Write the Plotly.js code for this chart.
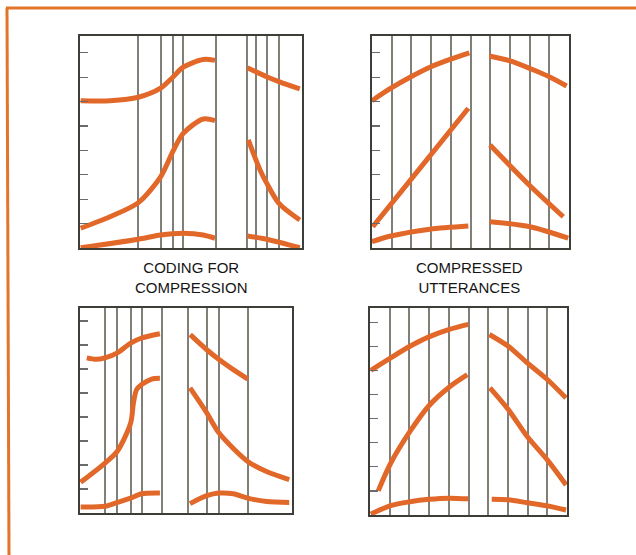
<!DOCTYPE html>
<html>
<head>
<meta charset="utf-8">
<script src="https://cdn.plot.ly/plotly-3.0.1.min.js"></script>
<style>html,body{margin:0;padding:0;background:#fff;}#chart{width:636px;height:555px;}</style>
</head>
<body>
<div id="chart"></div>
<script>
// ---- Data ----
const panelTitles = ["CODING FOR<br>COMPRESSION", "COMPRESSED<br>UTTERANCES"];
const yTickVals = [1, 2, 3, 4, 5, 6, 7, 8];

// vertical rule positions (0-100 across each panel)
const p1Rules = [26.3, 36.3, 41.8, 46.5, 61.1, 75.4, 79.2, 84.1, 89.6];
const p2Rules = [10, 20, 30, 40, 50, 60, 70, 80, 90];
const p3Rules = [11.8, 17.6, 23.9, 29.1, 38.5, 51.1, 59.8, 65.6, 79.1];
const p4Rules = [10, 20, 30, 40, 50, 60, 70, 80, 90];

// Panel 1 (top left)
const p1UpperLeftX = [0.3, 13.5, 26.3, 36.3, 41.8, 46.5, 55.5, 60.8];
const p1UpperLeftY = [6.04, 6.04, 6.18, 6.55, 7.0, 7.41, 7.73, 7.69];
const p1UpperRightX = [75.4, 84.1, 89.6, 99];
const p1UpperRightY = [7.39, 7.02, 6.82, 6.52];
const p1MidLeftX = [0.3, 13.5, 26.3, 36.3, 41.8, 46.5, 55.5, 60.8];
const p1MidLeftY = [0.81, 1.28, 1.86, 2.92, 3.95, 4.70, 5.29, 5.22];
const p1MidRightX = [75.8, 81.1, 84.1, 89.6, 99];
const p1MidRightY = [4.43, 3.20, 2.66, 1.83, 1.15];
const p1LowLeftX = [0.3, 26.3, 36.3, 46.5, 55.5, 60.8];
const p1LowLeftY = [0.01, 0.36, 0.53, 0.60, 0.53, 0.40];
const p1LowRightX = [75.4, 84.1, 99];
const p1LowRightY = [0.49, 0.36, 0.01];

// Panel 2 (top right)
const p2UpperLeftX = [0, 9.6, 19.8, 29.4, 39.6, 49.4];
const p2UpperLeftY = [6.04, 6.55, 7.02, 7.41, 7.73, 8.0];
const p2UpperRightX = [59.6, 69.7, 80.2, 90, 98.8];
const p2UpperRightY = [7.87, 7.68, 7.36, 7.02, 6.64];
const p2MidLeftX = [0.4, 19.6, 48.9];
const p2MidLeftY = [0.87, 2.79, 5.73];
const p2MidRightX = [59.9, 80.2, 97.1];
const p2MidRightY = [4.22, 2.55, 1.28];
const p2LowLeftX = [0, 9.6, 29.4, 48.9];
const p2LowLeftY = [0.26, 0.49, 0.77, 0.90];
const p2LowRightX = [59.9, 80.2, 99.6];
const p2LowRightY = [1.08, 0.87, 0.40];

// Panel 3 (bottom left)
const p3UpperLeftX = [3.2, 7.5, 11.8, 17.6, 23.9, 29.1, 37.7];
const p3UpperLeftY = [6.46, 6.40, 6.46, 6.67, 7.08, 7.29, 7.47];
const p3UpperRightX = [52.0, 59.8, 65.6, 72.3, 79.1];
const p3UpperRightY = [7.43, 6.80, 6.39, 5.97, 5.58];
const p3MidLeftX = [0.3, 11.8, 17.6, 23.9, 25.2, 26.7, 29.1, 33.8, 37.7];
const p3MidLeftY = [1.28, 2.08, 2.57, 3.75, 4.58, 5.14, 5.35, 5.58, 5.61];
const p3MidRightX = [51.9, 59.8, 65.6, 79.1, 88, 98.7];
const p3MidRightY = [5.21, 4.17, 3.33, 2.15, 1.73, 1.39];
const p3LowLeftX = [0.3, 11.8, 17.6, 23.9, 29.1, 37.7];
const p3LowLeftY = [0.25, 0.28, 0.44, 0.62, 0.80, 0.83];
const p3LowRightX = [51.9, 59.8, 65.6, 72.3, 79.1, 88, 98.7];
const p3LowRightY = [0.39, 0.72, 0.83, 0.80, 0.62, 0.48, 0.44];

// Panel 4 (bottom right)
const p4UpperLeftX = [0.4, 10.5, 20.3, 29.9, 40.3, 49.9];
const p4UpperLeftY = [6.01, 6.53, 7.01, 7.40, 7.71, 7.92];
const p4UpperRightX = [60.6, 70.2, 79.8, 90, 99.5];
const p4UpperRightY = [7.5, 7.01, 6.32, 5.63, 4.86];
const p4MidLeftX = [4.2, 10.5, 20.3, 29.9, 40.3, 49.4];
const p4MidLeftY = [1.01, 2.15, 3.47, 4.54, 5.32, 5.83];
const p4MidRightX = [60.9, 70.2, 79.8, 90, 99.5];
const p4MidRightY = [5.28, 4.38, 3.26, 2.29, 1.25];
const p4LowLeftX = [0.4, 10.5, 20.3, 29.9, 40.3, 49.9];
const p4LowLeftY = [0.04, 0.39, 0.55, 0.65, 0.70, 0.67];
const p4LowRightX = [61.8, 70.2, 79.8, 90, 99.5];
const p4LowRightY = [0.65, 0.63, 0.51, 0.38, 0.21];

// ---- Build ----
const curveColor = '#e2682a';
function seg(x, y, n) {
  return {
    x: x, y: y, xaxis: 'x' + (n === 1 ? '' : n), yaxis: 'y' + (n === 1 ? '' : n),
    type: 'scatter', mode: 'lines',
    line: {color: curveColor, width: 5, shape: 'spline', smoothing: 0.8},
    hoverinfo: 'skip', showlegend: false, cliponaxis: false
  };
}
const traces = [
  seg(p1UpperLeftX, p1UpperLeftY, 1), seg(p1UpperRightX, p1UpperRightY, 1),
  seg(p1MidLeftX, p1MidLeftY, 1), seg(p1MidRightX, p1MidRightY, 1),
  seg(p1LowLeftX, p1LowLeftY, 1), seg(p1LowRightX, p1LowRightY, 1),
  seg(p2UpperLeftX, p2UpperLeftY, 2), seg(p2UpperRightX, p2UpperRightY, 2),
  seg(p2MidLeftX, p2MidLeftY, 2), seg(p2MidRightX, p2MidRightY, 2),
  seg(p2LowLeftX, p2LowLeftY, 2), seg(p2LowRightX, p2LowRightY, 2),
  seg(p3UpperLeftX, p3UpperLeftY, 3), seg(p3UpperRightX, p3UpperRightY, 3),
  seg(p3MidLeftX, p3MidLeftY, 3), seg(p3MidRightX, p3MidRightY, 3),
  seg(p3LowLeftX, p3LowLeftY, 3), seg(p3LowRightX, p3LowRightY, 3),
  seg(p4UpperLeftX, p4UpperLeftY, 4), seg(p4UpperRightX, p4UpperRightY, 4),
  seg(p4MidLeftX, p4MidLeftY, 4), seg(p4MidRightX, p4MidRightY, 4),
  seg(p4LowLeftX, p4LowLeftY, 4), seg(p4LowRightX, p4LowRightY, 4)
];

const W = 636, H = 555;
function xdom(a, b) { return [a / W, b / W]; }
function ydom(top, bot) { return [1 - bot / H, 1 - top / H]; }
function xax(dom, rules, anchor) {
  return {domain: dom, anchor: anchor, range: [0, 100], tickvals: rules, showticklabels: false, ticks: '',
    showgrid: true, gridcolor: '#808079', gridwidth: 2, zeroline: false,
    showline: true, mirror: true, linecolor: '#3e3e38', linewidth: 2, fixedrange: true};
}
function yax(dom, top, anchor) {
  return {domain: dom, anchor: anchor, range: [0, top], tickvals: yTickVals, showticklabels: false,
    ticks: 'inside', ticklen: 8, tickcolor: '#6a6a6e', tickwidth: 1.2,
    showgrid: false, zeroline: false, showline: true, mirror: true,
    linecolor: '#3e3e38', linewidth: 2, fixedrange: true};
}

const layout = {
  width: W, height: H, margin: {l: 0, r: 0, t: 0, b: 0},
  paper_bgcolor: '#ffffff', plot_bgcolor: '#ffffff', showlegend: false,
  xaxis: xax(xdom(80, 302), p1Rules, 'y'),    yaxis: yax(ydom(36, 248), 8.69, 'x'),
  xaxis2: xax(xdom(372, 569), p2Rules, 'y2'), yaxis2: yax(ydom(36, 248), 8.69, 'x2'),
  xaxis3: xax(xdom(80, 292), p3Rules, 'y3'),  yaxis3: yax(ydom(308, 513), 8.54, 'x3'),
  xaxis4: xax(xdom(370, 567), p4Rules, 'y4'), yaxis4: yax(ydom(308, 515), 8.6, 'x4'),
  annotations: [
    {text: panelTitles[0], xref: 'paper', yref: 'paper', x: 191 / W, y: 1 - 277 / H,
     xanchor: 'center', yanchor: 'middle', showarrow: false, align: 'center',
     font: {family: 'Liberation Sans, Arial, sans-serif', size: 15, color: '#151515'}},
    {text: panelTitles[1], xref: 'paper', yref: 'paper', x: 470 / W, y: 1 - 277 / H,
     xanchor: 'center', yanchor: 'middle', showarrow: false, align: 'center',
     font: {family: 'Liberation Sans, Arial, sans-serif', size: 15, color: '#151515'}}
  ],
  shapes: [
    {type: 'line', xref: 'paper', yref: 'paper', x0: 6 / W, x1: 1, y0: 1 - 8 / H, y1: 1 - 8 / H,
     line: {color: '#e2752a', width: 3}},
    {type: 'line', xref: 'paper', yref: 'paper', x0: 7 / W, x1: 9 / W, y0: 1 - 8 / H, y1: 0,
     line: {color: '#e2752a', width: 3}}
  ]
};

Plotly.newPlot('chart', traces, layout, {displayModeBar: false, staticPlot: true});
</script>
</body>
</html>
